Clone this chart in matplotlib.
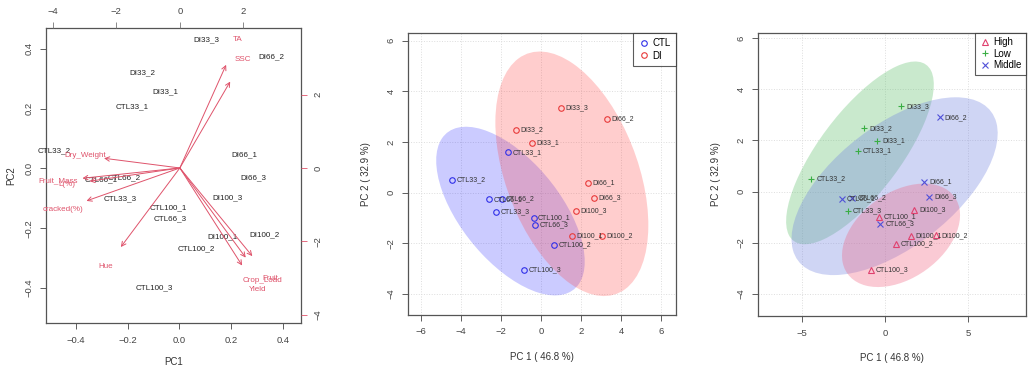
import matplotlib
matplotlib.use("Agg")
import matplotlib.pyplot as plt
from matplotlib.patches import Ellipse
from matplotlib.lines import Line2D
import numpy as np

plt.rcParams['font.family'] = ['Liberation Sans', 'DejaVu Sans']

# --- sample names and PCA scores ---
samples = ['DI33_1', 'DI33_2', 'DI33_3', 'DI66_1', 'DI66_2', 'DI66_3',
           'DI100_1', 'DI100_2', 'DI100_3',
           'CTL33_1', 'CTL33_2', 'CTL33_3', 'CTL66_1', 'CTL66_2', 'CTL66_3',
           'CTL100_1', 'CTL100_2', 'CTL100_3']
pc1 = [-0.46, -1.26, 0.98, 2.33, 3.28, 2.66, 1.53, 3.06, 1.73,
       -1.63, -4.42, -2.24, -2.59, -1.96, -0.28, -0.37, 0.65, -0.85]
pc2 = [1.97, 2.47, 3.33, 0.38, 2.90, -0.21, -1.72, -1.71, -0.72,
       1.59, 0.49, -0.76, -0.27, -0.25, -1.27, -0.99, -2.05, -3.05]
treatment = ['DI'] * 9 + ['CTL'] * 9
level = ['Low', 'Low', 'Low', 'Middle', 'Middle', 'Middle', 'High', 'High', 'High',
         'Low', 'Low', 'Low', 'Middle', 'Middle', 'Middle', 'High', 'High', 'High']

# biplot (scaled) scores
bi_pc1 = [-0.054, -0.143, 0.104, 0.251, 0.356, 0.287, 0.166, 0.330, 0.186,
          -0.182, -0.484, -0.228, -0.302, -0.213, -0.035, -0.043, 0.066, -0.097]
bi_pc2 = [0.257, 0.320, 0.430, 0.047, 0.373, -0.030, -0.227, -0.223, -0.097,
          0.207, 0.060, -0.100, -0.037, -0.030, -0.167, -0.130, -0.267, -0.400]

# variable loadings (label positions, top/right axes)
variables = ['TA', 'SSC', 'Dry_Weight', 'Fruit_Mass', 'L(%)', 'cracked(%)',
             'Hue', 'Crop_Load', 'Fruit', 'Yield']
load1 = [1.82, 1.98, -2.98, -3.83, -3.55, -3.67, -2.32, 2.59, 2.85, 2.45]
load2 = [3.51, 2.94, 0.33, -0.35, -0.45, -1.12, -2.69, -3.05, -3.00, -3.32]

pc1_label = 'PC 1 ( 46.8 %)'
pc2_label = 'PC 2 ( 32.9 %)'

ARROW_COL = '#DF536B'
TXT_COL = '#333333'


def r_axes_style(ax):
    for s in ax.spines.values():
        s.set_color('#555555')
        s.set_linewidth(0.9)
    ax.tick_params(axis='both', labelsize=6.8, colors='#444444', length=4, width=0.6, pad=5)
    for lab in ax.get_yticklabels():
        lab.set_rotation(90)
        lab.set_va('center')


def conf_ellipse(ax, x, y, color, alpha):
    x = np.asarray(x)
    y = np.asarray(y)
    cov = np.cov(x, y)
    vals, vecs = np.linalg.eigh(cov)
    order = vals.argsort()[::-1]
    vals, vecs = vals[order], vecs[:, order]
    t = np.sqrt(5.991)  # 95% chi-square, 2 df
    angle = np.degrees(np.arctan2(vecs[1, 0], vecs[0, 0]))
    e = Ellipse((x.mean(), y.mean()), 2 * t * np.sqrt(vals[0]), 2 * t * np.sqrt(vals[1]),
                angle=angle, facecolor=color, alpha=alpha, edgecolor='none', zorder=1)
    ax.add_patch(e)


fig = plt.figure(figsize=(10.36, 3.78), dpi=100)

# ----------------------------------------------------------------------
# --- Panel 1: biplot ---
# ----------------------------------------------------------------------
ax1 = fig.add_axes([0.0441, 0.1455, 0.2464, 0.7804])
ax1.set_xlim(-0.517, 0.47)
ax1.set_ylim(-0.517, 0.47)
ax1.set_xticks([-0.4, -0.2, 0.0, 0.2, 0.4])
ax1.set_yticks([-0.4, -0.2, 0.0, 0.2, 0.4])
r_axes_style(ax1)
ax1.set_xlabel('PC1', fontsize=7, color=TXT_COL, labelpad=9)
ax1.set_ylabel('PC2', fontsize=7, color=TXT_COL, labelpad=6)
for name, x, y in zip(samples, bi_pc1, bi_pc2):
    ax1.text(x, y, name, fontsize=5.8, ha='center', va='center', color='#222222')

ax1b = fig.add_axes(ax1.get_position(), frameon=False)
ax1b.set_xlim(-4.22, 3.81)
ax1b.set_ylim(-4.22, 3.81)
ax1b.xaxis.tick_top()
ax1b.yaxis.tick_right()
ax1b.set_xticks([-4, -2, 0, 2])
ax1b.set_yticks([-4, -2, 0, 2])
ax1b.tick_params(axis='both', labelsize=6.8, colors='#444444', length=4, width=0.6, pad=5)
ax1b.tick_params(axis='y', color=ARROW_COL)
ax1b.tick_params(axis='x', color='#777777')
for lab in ax1b.get_yticklabels():
    lab.set_rotation(90)
    lab.set_va('center')
for name, x, y in zip(variables, load1, load2):
    ax1b.annotate('', xy=(0.8 * x, 0.8 * y), xytext=(0, 0),
                  arrowprops=dict(arrowstyle='->', color=ARROW_COL, lw=0.7,
                                  shrinkA=0, shrinkB=0, mutation_scale=8))
    ax1b.text(x, y, name, fontsize=5.8, ha='center', va='center', color=ARROW_COL)

# ----------------------------------------------------------------------
# --- Panel 2: PCA by treatment ---
# ----------------------------------------------------------------------
ax2 = fig.add_axes([0.3938, 0.1667, 0.2587, 0.746])
treat_cols = {'CTL': '#3030E8', 'DI': '#E83A3A'}
treat_fill = {'CTL': '#3030FF', 'DI': '#FF3A3A'}
for g in ['CTL', 'DI']:
    idx = [i for i, t in enumerate(treatment) if t == g]
    conf_ellipse(ax2, [pc1[i] for i in idx], [pc2[i] for i in idx], treat_fill[g], 0.25)
for name, x, y, g in zip(samples, pc1, pc2, treatment):
    ax2.plot(x, y, 'o', mfc='none', mec=treat_cols[g], ms=4, mew=0.8, zorder=3)
    ax2.text(x + 0.22, y, name, fontsize=5, ha='left', va='center', color='#333333', zorder=4)
ax2.set_xlim(-6.63, 6.73)
ax2.set_ylim(-4.83, 6.3)
ax2.set_xticks([-6, -4, -2, 0, 2, 4, 6])
ax2.set_yticks([-4, -2, 0, 2, 4, 6])
ax2.grid(True, color='#DDDDDD', linestyle=':', linewidth=0.7)
ax2.set_axisbelow(True)
r_axes_style(ax2)
ax2.set_xlabel(pc1_label, fontsize=7, color=TXT_COL, labelpad=11)
ax2.set_ylabel(pc2_label, fontsize=7, color=TXT_COL, labelpad=11)
h2 = [Line2D([], [], marker='o', ls='none', mfc='none', mec=treat_cols[g], ms=4, mew=0.8)
      for g in ['CTL', 'DI']]
leg = ax2.legend(h2, ['CTL', 'DI'], loc='upper right', fontsize=7, frameon=True,
                 fancybox=False, edgecolor='#333333', handlelength=1.0, handletextpad=0.4,
                 borderpad=0.55, labelspacing=0.25, borderaxespad=0)
leg.get_frame().set_linewidth(0.8)

# ----------------------------------------------------------------------
# --- Panel 3: PCA by level ---
# ----------------------------------------------------------------------
ax3 = fig.add_axes([0.7317, 0.164, 0.2587, 0.7487])
lvl_cols = {'High': '#E0406E', 'Low': '#3AAE44', 'Middle': '#5050D8'}
lvl_fill = {'High': '#F0607E', 'Low': '#5CBF6A', 'Middle': '#7080E0'}
lvl_mark = {'High': '^', 'Low': '+', 'Middle': 'x'}
for g in ['Low', 'Middle', 'High']:
    idx = [i for i, t in enumerate(level) if t == g]
    conf_ellipse(ax3, [pc1[i] for i in idx], [pc2[i] for i in idx], lvl_fill[g], 0.33)
for name, x, y, g in zip(samples, pc1, pc2, level):
    if g == 'High':
        ax3.plot(x, y, '^', mfc='none', mec=lvl_cols[g], ms=4, mew=0.8, zorder=3)
    else:
        ax3.plot(x, y, lvl_mark[g], color=lvl_cols[g], ms=4, mew=0.8, zorder=3)
    ax3.text(x + 0.3, y, name, fontsize=5, ha='left', va='center', color='#333333', zorder=4)
ax3.set_xlim(-7.62, 8.46)
ax3.set_ylim(-4.86, 6.2)
ax3.set_xticks([-5, 0, 5])
ax3.set_yticks([-4, -2, 0, 2, 4, 6])
ax3.grid(True, color='#DDDDDD', linestyle=':', linewidth=0.7)
ax3.set_axisbelow(True)
r_axes_style(ax3)
ax3.set_xlabel(pc1_label, fontsize=7, color=TXT_COL, labelpad=11)
ax3.set_ylabel(pc2_label, fontsize=7, color=TXT_COL, labelpad=11)
h3 = []
for g in ['High', 'Low', 'Middle']:
    if g == 'High':
        h3.append(Line2D([], [], marker='^', ls='none', mfc='none', mec=lvl_cols[g], ms=4, mew=0.8))
    else:
        h3.append(Line2D([], [], marker=lvl_mark[g], ls='none', color=lvl_cols[g], ms=4, mew=0.8))
leg3 = ax3.legend(h3, ['High', 'Low', 'Middle'], loc='upper right', fontsize=7, frameon=True,
                  fancybox=False, edgecolor='#333333', handlelength=1.0, handletextpad=0.4,
                  borderpad=0.45, labelspacing=0.15, borderaxespad=0)
leg3.get_frame().set_linewidth(0.8)

fig.savefig('out.png', dpi=100)
